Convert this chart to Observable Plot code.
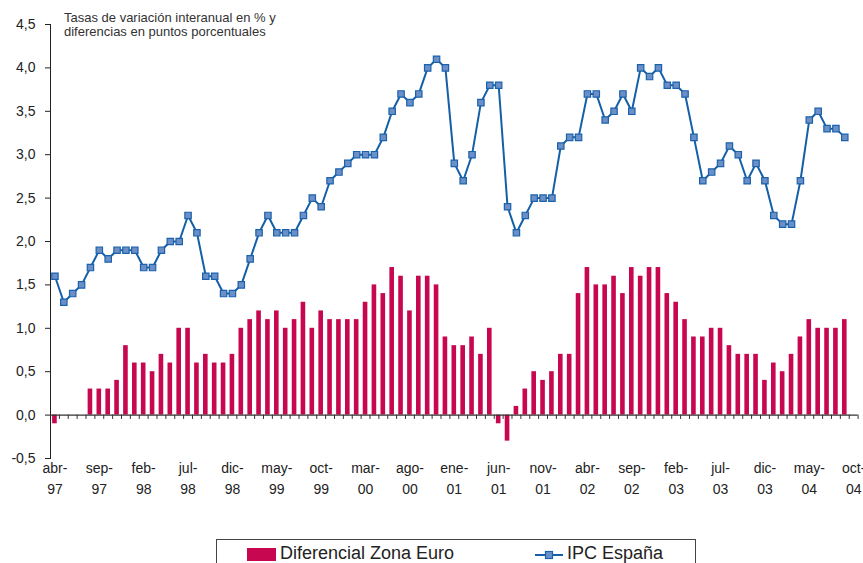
<!DOCTYPE html>
<html>
<head>
<meta charset="utf-8">
<script src="https://cdn.jsdelivr.net/npm/d3@7"></script>
<script src="https://cdn.jsdelivr.net/npm/@observablehq/plot@0.6"></script>
<style>
  html, body { margin: 0; padding: 0; background: #fff; }
  #wrap { position: relative; width: 863px; height: 563px; overflow: hidden; font-family: "Liberation Sans", Arial, sans-serif; }
  #title { position: absolute; left: 64px; top: 11px; font-size: 13px; line-height: 14px; color: #333; }
  #legend { position: absolute; left: 216px; top: 539px; width: 478px; height: 34px; border: 1.5px solid #444; font-size: 18px; color: #222; }
  #legend .item { position: absolute; top: 3px; line-height: 21px; white-space: nowrap; }
</style>
</head>
<body>
<div id="wrap">
  <div id="chart"></div>
  <div id="title">Tasas de variación interanual en % y<br>diferencias en puntos porcentuales</div>
  <div id="legend">
    <div style="position:absolute; left:30px; top:8px; width:29px; height:13px; background:#C70850;"></div>
    <div class="item" style="left:63px;">Diferencial Zona Euro</div>
    <svg style="position:absolute; left:318px; top:8px;" width="28" height="14">
      <line x1="0" y1="7" x2="28" y2="7" stroke="#1460A8" stroke-width="2"></line>
      <rect x="10.5" y="3.5" width="7" height="7" fill="#6C8FC7" stroke="#1A62AC" stroke-width="1.2"></rect>
    </svg>
    <div class="item" style="left:350px;">IPC España</div>
  </div>
</div>
<script>
// Month names (Spanish abbreviations)
const mesesNombres = ["ene","feb","mar","abr","may","jun","jul","ago","sep","oct","nov","dic"];
// Category axis runs from abr-97 to oct-04 (91 months); data from abr-97 to sep-04
const inicioAnio = 1997;
const inicioMes = 3; // abr
const numCategorias = 91;

// IPC España (% interanual), abr-97 .. sep-04
const ipcEspana = [
  1.6, 1.3, 1.4, 1.5, 1.7, 1.9, 1.8, 1.9, 1.9,
  1.9, 1.7, 1.7, 1.9, 2.0, 2.0, 2.3, 2.1, 1.6, 1.6, 1.4, 1.4,
  1.5, 1.8, 2.1, 2.3, 2.1, 2.1, 2.1, 2.3, 2.5, 2.4, 2.7, 2.8,
  2.9, 3.0, 3.0, 3.0, 3.2, 3.5, 3.7, 3.6, 3.7, 4.0, 4.1, 4.0,
  2.9, 2.7, 3.0, 3.6, 3.8, 3.8, 2.4, 2.1, 2.3, 2.5, 2.5, 2.5,
  3.1, 3.2, 3.2, 3.7, 3.7, 3.4, 3.5, 3.7, 3.5, 4.0, 3.9, 4.0,
  3.8, 3.8, 3.7, 3.2, 2.7, 2.8, 2.9, 3.1, 3.0, 2.7, 2.9, 2.7,
  2.3, 2.2, 2.2, 2.7, 3.4, 3.5, 3.3, 3.3, 3.2
];

// Diferencial con la Zona Euro (puntos porcentuales), abr-97 .. sep-04
const diferencialZonaEuro = [
  -0.1, 0, 0, 0, 0.3, 0.3, 0.3, 0.4, 0.8,
  0.6, 0.6, 0.5, 0.7, 0.6, 1.0, 1.0, 0.6, 0.7, 0.6, 0.6, 0.7,
  1.0, 1.1, 1.2, 1.1, 1.2, 1.0, 1.1, 1.3, 1.0, 1.2, 1.1, 1.1,
  1.1, 1.1, 1.3, 1.5, 1.4, 1.7, 1.6, 1.2, 1.6, 1.6, 1.5, 0.9,
  0.8, 0.8, 0.9, 0.7, 1.0, -0.1, -0.3, 0.1, 0.3, 0.5, 0.4, 0.5,
  0.7, 0.7, 1.4, 1.7, 1.5, 1.5, 1.6, 1.4, 1.7, 1.6, 1.7, 1.7,
  1.4, 1.3, 1.1, 0.9, 0.9, 1.0, 1.0, 0.8, 0.7, 0.7, 0.7, 0.4,
  0.6, 0.5, 0.7, 0.9, 1.1, 1.0, 1.0, 1.0, 1.1
];

const yTicks = [-0.5, 0, 0.5, 1.0, 1.5, 2.0, 2.5, 3.0, 3.5, 4.0, 4.5];
const cadaNMeses = 5;

// Build category labels
const categorias = d3.range(numCategorias).map(i => {
  const k = inicioMes + i;
  const m = mesesNombres[k % 12];
  const a = String((inicioAnio + Math.floor(k / 12)) % 100).padStart(2, "0");
  return {i, label: m + "-\n" + a};
});
const etiquetas = categorias.filter(d => d.i % cadaNMeses === 0);

const datos = ipcEspana.map((v, i) => ({i, ipc: v, dif: diferencialZonaEuro[i]}));
const barras = datos.filter(d => d.dif !== 0);

const fmt = v => d3.format(".1f")(v).replace(".", ",").replace("−", "-");

const rojo = "#C70850";
const azul = "#1460A8";

const chart = Plot.plot({
  width: 863,
  height: 530,
  marginTop: 24,
  marginBottom: 72,
  marginLeft: 50,
  marginRight: 5.4,
  style: {fontFamily: "'Liberation Sans', Arial, sans-serif", fontSize: "14px", color: "#222", background: "#fff", overflow: "visible"},
  x: {type: "linear", domain: [-0.5, numCategorias - 0.5], axis: null},
  y: {domain: [-0.5, 4.5], ticks: yTicks, tickFormat: fmt, tickSize: 5, tickPadding: 10, line: true, label: null},
  marks: [
    Plot.rectY(barras, {x1: d => d.i - 0.26, x2: d => d.i + 0.26, y1: 0, y2: "dif", fill: rojo}),
    Plot.ruleY([0], {stroke: "#333", strokeWidth: 1.2}),
    Plot.ruleX(categorias, {x: d => d.i + 0.5, y1: 0, y2: -0.05, stroke: "#333", strokeWidth: 1}),
    Plot.line(datos, {x: "i", y: "ipc", stroke: azul, strokeWidth: 2}),
    Plot.dot(datos, {x: "i", y: "ipc", symbol: "square", r: 3.6, fill: "#6C8FC7", stroke: "#1A62AC", strokeWidth: 1.2}),
    Plot.text(etiquetas, {x: "i", text: "label", frameAnchor: "bottom", dy: 35, lineHeight: 1.43, fill: "#222", fontSize: 14})
  ]
});
document.getElementById("chart").appendChild(chart);
</script>
</body>
</html>
